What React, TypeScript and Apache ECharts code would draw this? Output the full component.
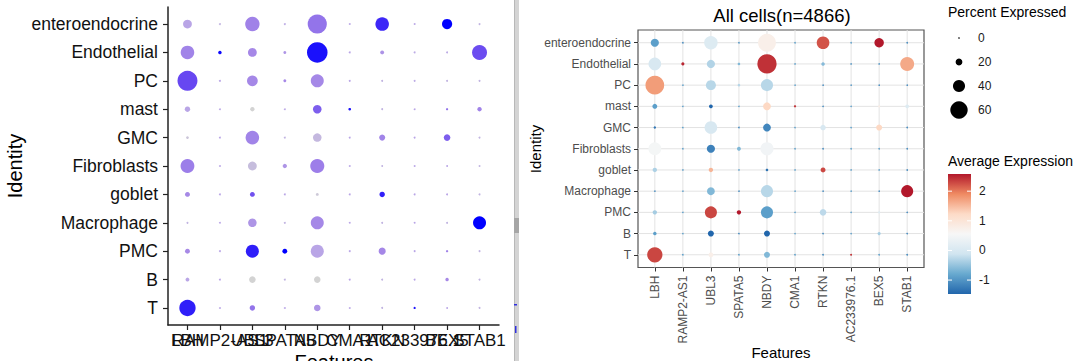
import React, { useEffect, useRef } from "react";
import * as echarts from "echarts";

const FONT = "Liberation Sans, Arial, sans-serif";

const genes = ["LBH", "RAMP2-AS1", "UBL3", "SPATA5", "NBDY", "CMA1", "RTKN", "AC233976.1", "BEX5", "STAB1"];
const identities = ["enteroendocrine", "Endothelial", "PC", "mast", "GMC", "Fibroblasts", "goblet", "Macrophage", "PMC", "B", "T"];

// percent expressed, one row per identity (genes in the order above)
const pctExpressed = [
  [25, 0.5, 45, 0.5, 62, 0.3, 42, 0.3, 30, 0.5],
  [42, 6, 25, 4, 67, 0.5, 7.5, 0.5, 0.5, 47],
  [65, 0.5, 32, 4, 40, 0.3, 0.5, 0.3, 0.5, 0.5],
  [13, 0.3, 9, 0.3, 24, 3, 0.5, 0.3, 1.5, 9],
  [3.5, 0.3, 42, 0.5, 24, 0.3, 15, 0.3, 17, 0.5],
  [43, 0.3, 25, 9, 44, 0.3, 0.5, 0.3, 0.3, 0.5],
  [11, 0.3, 11, 0.3, 4, 0.3, 13, 0.3, 0.3, 0.5],
  [0.5, 0.3, 24, 0.5, 40, 0.3, 0.5, 0.3, 0.5, 40],
  [11, 0.3, 40, 11, 40, 0.3, 19, 0.3, 2, 0.5],
  [7.5, 0.3, 17, 0.5, 17, 0.3, 0.5, 0.3, 6, 0.5],
  [52, 0.3, 13, 0.3, 17, 0.3, 0.5, 1.5, 0.3, 0.5],
];

// average expression (scaled), one row per identity
const avgExpression = [
  [-0.9, -1.1, 0.1, -1.0, 0.75, -0.9, 2.23, -0.9, 2.58, -1.1],
  [0.0, 2.5, -0.32, -0.63, 2.43, -0.9, -0.6, -1.0, -1.0, 1.65],
  [1.75, -0.9, -0.28, -0.3, -0.28, -0.9, -1.1, -1.0, -1.1, -1.1],
  [-0.9, -0.9, -1.47, -0.9, 1.25, 2.4, -1.1, -0.9, 0.8, 0.1],
  [-1.3, -0.9, 0.0, -1.1, -1.15, -0.9, 0.0, -0.9, 1.25, -1.1],
  [0.5, -0.9, -1.2, -0.63, 0.45, -0.9, -1.1, -0.9, -0.9, -1.1],
  [-0.35, -0.9, 1.55, -0.9, -1.35, -0.9, 2.3, -0.9, -0.9, -1.1],
  [-1.1, -0.9, -0.63, -1.1, -0.28, -0.9, -1.1, -0.9, -1.1, 2.58],
  [-0.4, -0.9, 2.31, 2.58, -0.9, -0.9, -0.25, -0.9, 0.1, -1.1],
  [-0.9, -0.9, -1.47, -1.1, -1.47, -0.9, -1.1, -0.9, -0.4, -1.1],
  [2.31, -0.9, 0.75, -0.9, -0.63, -0.9, -1.1, 2.4, -0.9, -1.1],
];

const sizeLegendValues = [0, 20, 40, 60];
const colorLegendTicks = [2, 1, 0, -1];
const colorMin = -1.47;
const colorMax = 2.58;

const rdbuColors = ["#2166AC", "#67A9CF", "#D1E5F0", "#F7F7F7", "#FDDBC7", "#EF8A62", "#B2182B"];
const greyBlueColors = ["#D3D3D3", "#BBA9E6", "#A88AE6", "#A083E8", "#9C7DE9", "#8566EC", "#7050EF", "#5838F4", "#0000FF"];

const leftSize = (p: number) => 1.8 + p * 0.28;
const rightSize = (p: number) => 1.5 + p * 0.265;

export default function App() {
  const ref = useRef<HTMLDivElement>(null);

  useEffect(() => {
    if (!ref.current) return;
    const chart = echarts.init(ref.current, null, { renderer: "svg" });

    const cells = identities.flatMap((_, i) =>
      genes.map((_, j) => [j, i, pctExpressed[i][j], avgExpression[i][j]])
    );
    const geneIdx = genes.map((_, j) => j);
    const idIdx = identities.map((_, i) => i);
    const xMax = genes.length - 1 + 0.6;
    const yMax = identities.length - 1 + 0.6;
    // the left plot's overlapping gene labels, split over three stacked axes so none is dropped
    const labelGroups = [0, 1, 2].map((r) => geneIdx.filter((j) => j % 3 === r));

    // legend geometry
    const legX = 948;
    const barTop = 174;
    const barH = 120;
    const barW = 23;
    const valToY = (v: number) => barTop + ((colorMax - v) / (colorMax - colorMin)) * barH;

    const graphics: any[] = [
      // separator between the two screenshots
      { type: "rect", shape: { x: 514, y: 0, width: 5, height: 361 }, style: { fill: "#d4d4d4" } },
      { type: "rect", shape: { x: 514, y: 0, width: 1, height: 361 }, style: { fill: "#b8b8b8" } },
      { type: "rect", shape: { x: 514, y: 218, width: 5, height: 15 }, style: { fill: "#a6a6a6" } },
      { type: "rect", shape: { x: 514, y: 304, width: 3, height: 1.5 }, style: { fill: "#3030e0" } },
      { type: "rect", shape: { x: 515, y: 326, width: 1.5, height: 7 }, style: { fill: "#3030e0" } },
      // left axis titles
      {
        type: "text", x: 15, y: 166, rotation: Math.PI / 2,
        style: { text: "Identity", fontSize: 20, fontFamily: FONT, fill: "#000", align: "center", verticalAlign: "middle" },
      },
      {
        type: "text", x: 334, y: 352,
        style: { text: "Features", fontSize: 20, fontFamily: FONT, fill: "#000", align: "center", verticalAlign: "top" },
      },
      // right plot titles
      {
        type: "text", x: 782, y: 15,
        style: { text: "All cells(n=4866)", fontSize: 18.5, fontFamily: FONT, fill: "#000", align: "center", verticalAlign: "middle" },
      },
      {
        type: "text", x: 535, y: 149, rotation: Math.PI / 2,
        style: { text: "Identity", fontSize: 15, fontFamily: FONT, fill: "#000", align: "center", verticalAlign: "middle" },
      },
      {
        type: "text", x: 781, y: 352,
        style: { text: "Features", fontSize: 15, fontFamily: FONT, fill: "#000", align: "center", verticalAlign: "middle" },
      },
      // legends
      {
        type: "text", x: legX, y: 12,
        style: { text: "Percent Expressed", fontSize: 14, fontFamily: FONT, fill: "#000", align: "left", verticalAlign: "middle" },
      },
      {
        type: "text", x: legX, y: 161,
        style: { text: "Average Expression", fontSize: 14, fontFamily: FONT, fill: "#000", align: "left", verticalAlign: "middle" },
      },
      {
        type: "rect",
        shape: { x: legX, y: barTop, width: barW, height: barH },
        style: {
          fill: new echarts.graphic.LinearGradient(0, 0, 0, 1,
            rdbuColors.slice().reverse().map((c, k) => ({ offset: k / (rdbuColors.length - 1), color: c }))),
        },
      },
    ];

    sizeLegendValues.forEach((v, k) => {
      const cy = 38 + k * 24;
      graphics.push({ type: "circle", shape: { cx: 959, cy, r: rightSize(v) / 2 }, style: { fill: "#000" } });
      graphics.push({
        type: "text", x: 978, y: cy,
        style: { text: String(v), fontSize: 12, fontFamily: FONT, fill: "#1a1a1a", align: "left", verticalAlign: "middle" },
      });
    });

    colorLegendTicks.forEach((v) => {
      const y = valToY(v);
      graphics.push({ type: "line", shape: { x1: legX, y1: y, x2: legX + 4, y2: y }, style: { stroke: "#fff", lineWidth: 1 } });
      graphics.push({ type: "line", shape: { x1: legX + barW - 4, y1: y, x2: legX + barW, y2: y }, style: { stroke: "#fff", lineWidth: 1 } });
      graphics.push({
        type: "text", x: 979, y,
        style: { text: String(v), fontSize: 12, fontFamily: FONT, fill: "#1a1a1a", align: "left", verticalAlign: "middle" },
      });
    });

    const leftLabelAxis = (group: number[], withLine: boolean) => ({
      type: "value", gridIndex: 0, position: "bottom", offset: 0, min: -0.6, max: xMax,
      axisLine: { show: withLine, onZero: false, lineStyle: { color: "#222", width: 1.5 } },
      axisTick: { show: withLine, customValues: geneIdx, length: 5, lineStyle: { color: "#222", width: 1.2 } },
      axisLabel: {
        show: true, customValues: group, formatter: (v: number) => genes[Math.round(v)],
        fontSize: 17, color: "#111", margin: 7, fontFamily: FONT, hideOverlap: false,
      },
      splitLine: { show: false },
    });

    const option: any = {
      animation: false,
      backgroundColor: "#fff",
      textStyle: { fontFamily: FONT },
      grid: [
        { left: 168, top: 7, width: 331, height: 318, containLabel: false, outerBoundsMode: "none" },
        {
          left: 638, top: 30, width: 286, height: 237.5, containLabel: false, outerBoundsMode: "none",
          show: true, borderColor: "#555", borderWidth: 1.2, backgroundColor: "#fff",
        },
      ],
      xAxis: [
        leftLabelAxis(labelGroups[0], true),
        {
          type: "value", gridIndex: 1, min: -0.6, max: xMax,
          axisLine: { show: false, onZero: false },
          axisTick: { show: true, customValues: geneIdx, length: 4, lineStyle: { color: "#333", width: 1 } },
          axisLabel: {
            show: true, customValues: geneIdx, formatter: (v: number) => genes[Math.round(v)],
            rotate: 90, fontSize: 12, color: "#4d4d4d", margin: 8, fontFamily: FONT, hideOverlap: false,
            showMinLabel: true, showMaxLabel: true,
          },
          splitLine: { show: false },
        },
        leftLabelAxis(labelGroups[1], false),
        leftLabelAxis(labelGroups[2], false),
      ],
      yAxis: [
        {
          type: "value", gridIndex: 0, min: -0.6, max: yMax, inverse: true,
          axisLine: { show: true, onZero: false, lineStyle: { color: "#222", width: 1.5 } },
          axisTick: { show: true, customValues: idIdx, length: 5, lineStyle: { color: "#222", width: 1.2 } },
          axisLabel: {
            show: true, customValues: idIdx, formatter: (v: number) => identities[Math.round(v)],
            fontSize: 17.5, color: "#111", margin: 10, fontFamily: FONT, hideOverlap: false,
            showMinLabel: true, showMaxLabel: true,
          },
          splitLine: { show: false },
        },
        {
          type: "value", gridIndex: 1, min: -0.6, max: yMax, inverse: true,
          axisLine: { show: false, onZero: false },
          axisTick: { show: true, customValues: idIdx, length: 4, lineStyle: { color: "#333", width: 1 } },
          axisLabel: {
            show: true, customValues: idIdx, formatter: (v: number) => identities[Math.round(v)],
            fontSize: 12, color: "#4d4d4d", margin: 7, fontFamily: FONT, hideOverlap: false,
            showMinLabel: true, showMaxLabel: true,
          },
          splitLine: { show: false },
        },
      ],
      visualMap: [
        {
          type: "continuous", show: false, seriesIndex: 0, dimension: 3,
          min: colorMin, max: colorMax, inRange: { color: greyBlueColors },
        },
        {
          type: "continuous", show: false, seriesIndex: 2, dimension: 3,
          min: colorMin, max: colorMax, inRange: { color: rdbuColors },
        },
      ],
      series: [
        {
          type: "scatter", xAxisIndex: 0, yAxisIndex: 0, data: cells,
          symbol: "circle", symbolSize: (d: number[]) => leftSize(d[2]),
          itemStyle: { opacity: 1 }, silent: true, z: 3,
        },
        {
          type: "custom", xAxisIndex: 1, yAxisIndex: 1, silent: true, z: 1,
          data: [...geneIdx.map((j) => [0, j]), ...idIdx.map((i) => [1, i])],
          renderItem: (_p: any, api: any) => {
            const kind = api.value(0);
            const k = api.value(1);
            let p1, p2;
            if (kind === 0) {
              p1 = api.coord([k, -0.6]);
              p2 = api.coord([k, yMax]);
            } else {
              p1 = api.coord([-0.6, k]);
              p2 = api.coord([xMax, k]);
            }
            return {
              type: "line",
              shape: { x1: p1[0], y1: p1[1], x2: p2[0], y2: p2[1] },
              style: { stroke: "#e3e3e3", lineWidth: 1 },
            };
          },
        },
        {
          type: "scatter", xAxisIndex: 1, yAxisIndex: 1, data: cells,
          symbol: "circle", symbolSize: (d: number[]) => rightSize(d[2]),
          itemStyle: { opacity: 1 }, silent: true, z: 3,
        },
      ],
      graphic: graphics,
    };

    chart.setOption(option);
    return () => chart.dispose();
  }, []);

  return (
    <div
      ref={ref}
      style={{ position: "absolute", left: 0, top: 0, width: 1080, height: 361, background: "#fff" }}
    />
  );
}
